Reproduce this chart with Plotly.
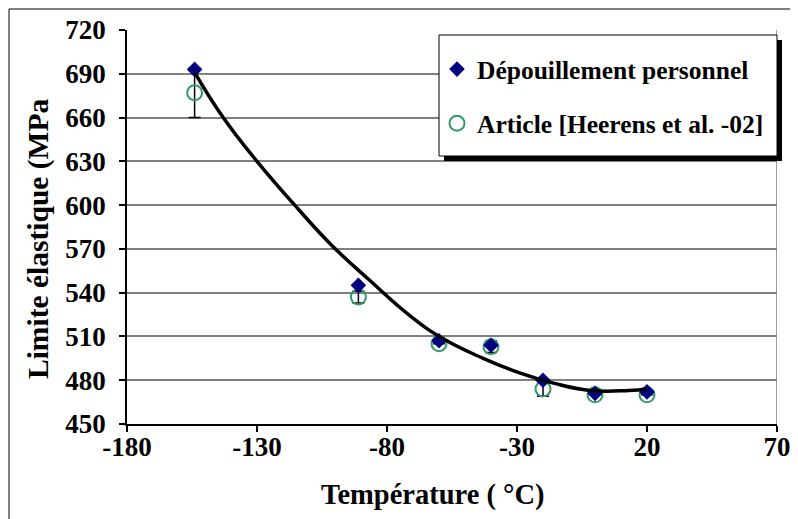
import plotly.graph_objects as go

# ---- data ----
temp_pts = [-154, -91, -60, -40, -20, 0, 20]
yield_perso = [693, 545, 507, 504, 480, 471, 472]
yield_article = [677, 537, 505, 503, 474, 470, 470]
article_err = [17, 4, None, 4, 5, None, None]

trend_T = [-154, -143, -130, -114, -101, -87, -71, -58, -43, -29, -16, -2, 13, 20]
trend_V = [691, 660, 630, 597, 572, 549, 524, 508, 495, 485, 478, 473, 473, 474]

x_ticks = [-180, -130, -80, -30, 20, 70]
y_ticks = [450, 480, 510, 540, 570, 600, 630, 660, 690, 720]

FONT = "Liberation Serif"
NAVY = "#000080"
GREEN = "#339966"

fig = go.Figure()

fig.add_trace(go.Scatter(
    x=temp_pts, y=yield_article, mode="markers",
    marker=dict(size=1, color="rgba(0,0,0,0)"),
    error_y=dict(type="data", array=article_err, visible=True,
                 color="black", thickness=1.5, width=6),
    showlegend=False, hoverinfo="skip"))

fig.add_trace(go.Scatter(
    x=temp_pts, y=yield_article, mode="markers",
    name="<b>Article [Heerens et al. -02]</b>",
    marker=dict(symbol="circle-open", size=15, color=GREEN, line=dict(width=2, color=GREEN)),
    legendgroup="b", legendrank=2))

fig.add_trace(go.Scatter(
    x=temp_pts, y=yield_perso, mode="markers",
    name="<b>Dépouillement personnel</b>",
    marker=dict(symbol="diamond", size=12, color=NAVY, line=dict(width=0)),
    legendgroup="a", legendrank=1))

fig.add_trace(go.Scatter(
    x=trend_T, y=trend_V, mode="lines",
    line=dict(color="black", width=3.5, shape="spline", smoothing=1.3),
    showlegend=False, hoverinfo="skip"))

# page offset of the figure (browser body margin)
OFF = 8
FW, FH = 798 - OFF, 519 - OFF
L, R, T, B = 119, 21, 22, 95
W, H = FW - L - R, FH - T - B

def px2x(px):
    return (px - OFF - L) / W

def py2y(py):
    return (T + H - (py - OFF)) / H

shapes = [
    dict(type="rect", xref="paper", yref="paper",
         x0=px2x(9), x1=px2x(900), y0=py2y(700), y1=py2y(9),
         line=dict(color="black", width=1), fillcolor="rgba(0,0,0,0)", layer="below"),
    dict(type="line", xref="x", yref="y", x0=70, x1=70, y0=450, y1=720,
         line=dict(color="#808080", width=1.5), layer="below"),
    dict(type="rect", xref="paper", yref="paper",
         x0=px2x(444), x1=px2x(782), y0=py2y(161), y1=py2y(40),
         line=dict(width=0), fillcolor="black", layer="above"),
    dict(type="rect", xref="paper", yref="paper",
         x0=px2x(439), x1=px2x(777), y0=py2y(156), y1=py2y(35),
         line=dict(color="black", width=1), fillcolor="white", layer="above"),
]

fig.update_layout(
    width=FW, height=FH,
    margin=dict(l=L, r=R, t=T, b=B, autoexpand=False),
    paper_bgcolor="white", plot_bgcolor="white",
    font=dict(family=FONT, size=26, color="black"),
    shapes=shapes,
    showlegend=True,
    legend=dict(x=px2x(437), y=py2y(46), xanchor="left", yanchor="top",
                bgcolor="rgba(0,0,0,0)", borderwidth=0,
                font=dict(family=FONT, size=25.5, color="black"),
                tracegroupgap=18, itemwidth=30),
    xaxis=dict(range=[-180, 70], tickvals=x_ticks, ticktext=[f"<b>{v}</b>" for v in x_ticks],
               showgrid=False, zeroline=False, showline=True, linecolor="black", linewidth=1.5,
               ticks="outside", ticklen=6, tickcolor="black", tickwidth=1.5, automargin=False,
               ticklabelstandoff=-8,
               tickfont=dict(family=FONT, size=27)),
    yaxis=dict(range=[450, 720], tickvals=y_ticks, ticktext=[f"<b>{v}</b>" for v in y_ticks],
               showgrid=True, gridcolor="#808080", gridwidth=1.5, zeroline=False,
               showline=True, linecolor="black", linewidth=1.5, automargin=False,
               ticks="outside", ticklen=6, tickcolor="black", tickwidth=1.5,
               ticklabelstandoff=8,
               tickfont=dict(family=FONT, size=27)),
    annotations=[
        dict(text="<b>Température ( °C)</b>", xref="paper", yref="paper",
             x=px2x(433), y=py2y(495), xanchor="center", yanchor="middle",
             showarrow=False, font=dict(family=FONT, size=28.5)),
        dict(text="<b>Limite élastique (MPa</b>", xref="paper", yref="paper",
             x=px2x(38), y=py2y(239), xanchor="center", yanchor="middle",
             textangle=-90, showarrow=False, font=dict(family=FONT, size=29.5)),
    ],
)

fig.write_html("out.html")
